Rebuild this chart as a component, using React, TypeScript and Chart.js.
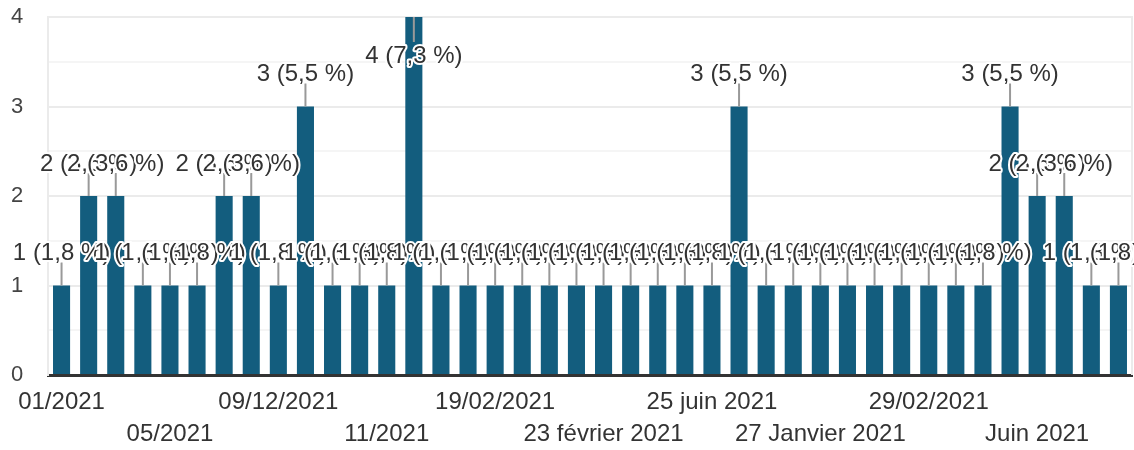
import React, { useEffect, useRef } from 'react';
import { Chart, registerables } from 'chart.js';

Chart.register(...registerables);

// Category labels (only every 4th label is readable in the reference)
const categories: string[] = [
  '01/2021', '', '', '',
  '05/2021', '', '', '',
  '09/12/2021', '', '', '',
  '11/2021', '', '', '',
  '19/02/2021', '', '', '',
  '23 février 2021', '', '', '',
  '25 juin 2021', '', '', '',
  '27 Janvier 2021', '', '', '',
  '29/02/2021', '', '', '',
  'Juin 2021', '', '', '',
];

const counts: number[] = [
  1, 2, 2, 1, 1, 1, 2, 2, 1, 3,
  1, 1, 1, 4, 1, 1, 1, 1, 1, 1,
  1, 1, 1, 1, 1, 3, 1, 1, 1, 1,
  1, 1, 1, 1, 1, 3, 2, 2, 1, 1,
];

const yTickLabels: string[] = ['0', '1', '2', '3', '4'];

const FONT = 'Arial, "Liberation Sans", sans-serif';
const BAR_COLOR = '#135d7e';

const frameAndLabels = {
  id: 'frameAndLabels',
  beforeDatasetsDraw(chart: any) {
    const { ctx, chartArea } = chart;
    ctx.save();
    ctx.strokeStyle = '#ebebeb';
    ctx.lineWidth = 2;
    ctx.beginPath();
    ctx.moveTo(chartArea.right, chartArea.top - 1);
    ctx.lineTo(chartArea.right, chartArea.bottom);
    ctx.stroke();
    ctx.restore();
  },
  afterDatasetsDraw(chart: any) {
    const { ctx, chartArea } = chart;
    const meta = chart.getDatasetMeta(0);
    const total = counts.reduce((a, b) => a + b, 0);
    const items = meta.data.map((bar: any, i: number) => {
      const v = counts[i];
      const pct = ((v / total) * 100).toFixed(1).replace('.', ',');
      const top = bar.y;
      const flip = top - 45 < chartArea.top;
      return { x: bar.x, top, flip, text: `${v} (${pct} %)` };
    });
    ctx.save();
    ctx.strokeStyle = '#999999';
    ctx.lineWidth = 2;
    items.forEach((it: any) => {
      ctx.beginPath();
      ctx.moveTo(it.x, it.top);
      ctx.lineTo(it.x, it.flip ? it.top + 25 : it.top - 23);
      ctx.stroke();
    });
    ctx.font = `24px ${FONT}`;
    ctx.textAlign = 'center';
    ctx.textBaseline = 'middle';
    ctx.lineJoin = 'round';
    items.forEach((it: any) => {
      const y = it.flip ? it.top + 39 : it.top - 32;
      ctx.strokeStyle = '#ffffff';
      ctx.lineWidth = 4;
      ctx.strokeText(it.text, it.x, y);
      ctx.fillStyle = '#333333';
      ctx.fillText(it.text, it.x, y);
    });
    ctx.restore();
  },
};

export default function App() {
  const canvasRef = useRef<HTMLCanvasElement | null>(null);

  useEffect(() => {
    if (!canvasRef.current) return;
    const chart = new Chart(canvasRef.current, {
      type: 'bar',
      data: {
        labels: categories,
        datasets: [
          {
            data: counts,
            backgroundColor: BAR_COLOR,
            barPercentage: 0.63,
            categoryPercentage: 1,
          },
        ],
      },
      options: {
        animation: false,
        responsive: false,
        layout: { padding: { top: 17, right: 2, bottom: 0, left: 11 } },
        plugins: {
          legend: { display: false },
          tooltip: { enabled: false },
        },
        scales: {
          x: {
            offset: true,
            afterFit: (s: any) => {
              s.height = 75;
            },
            grid: { display: false, drawTicks: false },
            border: { display: true, color: '#333333', width: 3 },
            ticks: {
              autoSkip: false,
              maxRotation: 0,
              minRotation: 0,
              padding: 11,
              color: '#333333',
              font: { size: 24, family: FONT, lineHeight: 1.34 },
              callback: (_v: any, i: number) => {
                const l = categories[i];
                if (!l) return '';
                return Math.floor(i / 4) % 2 === 0 ? l : ['', l];
              },
            },
          },
          y: {
            min: 0,
            max: 4,
            afterFit: (s: any) => {
              s.width = 37;
            },
            grid: {
              color: (c: any) =>
                Number.isInteger(c.tick?.value) ? '#ebebeb' : '#f5f5f5',
              lineWidth: 2,
              drawTicks: false,
            },
            border: { display: true, color: '#ebebeb', width: 2 },
            ticks: {
              stepSize: 0.5,
              padding: 2,
              crossAlign: 'far',
              color: '#444444',
              font: { size: 22, family: FONT },
              callback: (v: any) =>
                Number.isInteger(v) ? yTickLabels[v] : '',
            },
          },
        },
      },
      plugins: [frameAndLabels],
    });
    return () => chart.destroy();
  }, []);

  return (
    <div style={{ position: 'absolute', left: 0, top: 0, width: 1134, height: 450 }}>
      <canvas ref={canvasRef} width={1134} height={450} style={{ display: 'block' }} />
    </div>
  );
}
